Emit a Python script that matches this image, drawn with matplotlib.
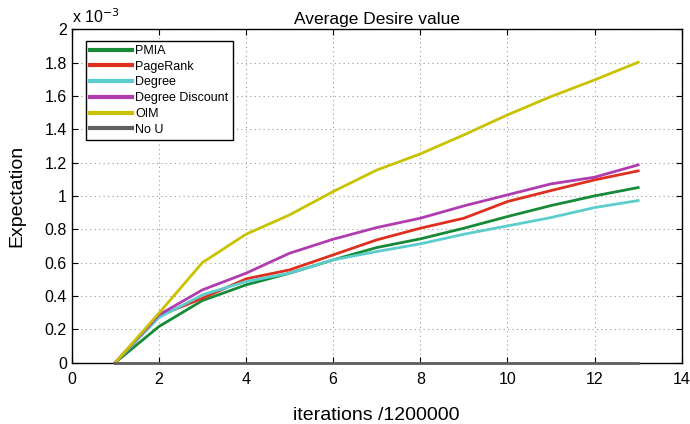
import matplotlib
matplotlib.use("Agg")
import matplotlib.pyplot as plt
from matplotlib.ticker import FormatStrFormatter

plt.rcParams["font.family"] = ["Liberation Sans", "DejaVu Sans"]

# iterations (in units of 1200000) and expectation values (x 1e-3)
iterations = [1, 2, 3, 4, 5, 6, 7, 8, 9, 10, 11, 12, 13]
pmia = [0, 0.216, 0.372, 0.466, 0.536, 0.616, 0.690, 0.742, 0.806, 0.876, 0.942, 1.000, 1.050]
pagerank = [0, 0.280, 0.386, 0.502, 0.556, 0.646, 0.736, 0.806, 0.866, 0.966, 1.032, 1.096, 1.150]
degree = [0, 0.270, 0.406, 0.486, 0.536, 0.616, 0.666, 0.712, 0.770, 0.820, 0.870, 0.930, 0.972]
degree_discount = [0, 0.286, 0.436, 0.536, 0.656, 0.740, 0.810, 0.866, 0.940, 1.006, 1.072, 1.112, 1.186]
oim = [0, 0.296, 0.600, 0.770, 0.886, 1.026, 1.155, 1.252, 1.366, 1.486, 1.596, 1.696, 1.802]
no_u = [0, 0, 0, 0, 0, 0, 0, 0, 0, 0, 0, 0, 0]

series = [
    ("PMIA", pmia, "#168a36"),
    ("PageRank", pagerank, "#de2f1f"),
    ("Degree", degree, "#5ccccc"),
    ("Degree Discount", degree_discount, "#b03cb0"),
    ("OIM", oim, "#c8c200"),
    ("No U", no_u, "#5e5e5e"),
]

fig = plt.figure(figsize=(6.9, 4.24), dpi=100)
ax = fig.add_axes([0.104, 0.145, 0.884, 0.786])

for name, values, color in series:
    ax.plot(iterations, values, color=color, linewidth=2.0, label=name, clip_on=False, zorder=3)

ax.set_xlim(0, 14)
ax.set_ylim(0, 2)
ax.set_xticks(range(0, 15, 2))
ax.set_yticks([i * 0.2 for i in range(11)])
ax.yaxis.set_major_formatter(FormatStrFormatter("%g"))

ax.grid(True, linestyle=(0, (1, 3)), color="#999999", linewidth=0.8)
ax.tick_params(direction="in", top=True, right=True, length=4, labelsize=11.5)
ax.tick_params(axis="x", pad=7)
for spine in ax.spines.values():
    spine.set_linewidth(1.0)

ax.set_title("Average Desire value", fontsize=12.5, pad=4)
ax.set_xlabel("iterations /1200000", fontsize=14, labelpad=14)
ax.set_ylabel("Expectation", fontsize=14, labelpad=14)
ax.text(0.0, 1.01, r"x 10$^{-3}$", transform=ax.transAxes, fontsize=11.5, ha="left", va="bottom")

leg = ax.legend(loc="upper left", bbox_to_anchor=(0.013, 0.985), fontsize=9,
                handlelength=3.3, handletextpad=0.3, labelspacing=0.3,
                borderpad=0.35, fancybox=False, framealpha=1, edgecolor="black")
leg.get_frame().set_linewidth(1.0)
for line in leg.get_lines():
    line.set_linewidth(3)

fig.savefig("out.png", dpi=100)
